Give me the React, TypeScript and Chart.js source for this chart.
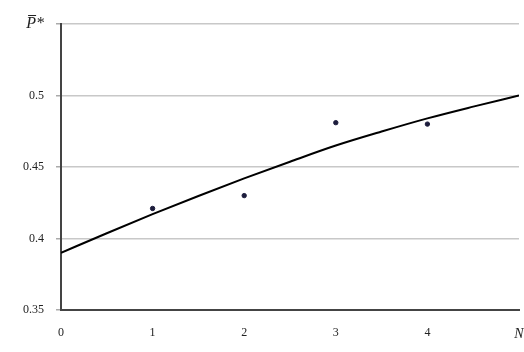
import React, { useEffect, useRef } from "react";
import { Chart, registerables } from "chart.js";

Chart.register(...registerables);

const pointX = [1, 2, 3, 4];
const pointY = [0.421, 0.43, 0.481, 0.48];
const curveX = [0, 0.5, 1, 1.5, 2, 2.5, 3, 3.5, 4, 4.5, 5];
const curveY = [0.39, 0.4037, 0.417, 0.4297, 0.442, 0.4537, 0.465, 0.4748, 0.484, 0.4922, 0.5];
const yTicks = [0.35, 0.4, 0.45, 0.5, 0.55];
const yTickLabels = ["0.35", "0.4", "0.45", "0.5", "P\u0305*"];
const xTicks = [0, 1, 2, 3, 4, 5];
const xTickLabels = ["0", "1", "2", "3", "4", "N"];

export default function App() {
  const ref = useRef<HTMLCanvasElement | null>(null);
  useEffect(() => {
    if (!ref.current) return;
    const chart = new Chart(ref.current, {
      type: "scatter",
      data: {
        datasets: [
          {
            label: "curve",
            data: curveX.map((x, i) => ({ x, y: curveY[i] })),
            showLine: true,
            borderColor: "#000000",
            borderWidth: 2,
            pointRadius: 0,
            cubicInterpolationMode: "monotone",
          } as any,
          {
            label: "points",
            data: pointX.map((x, i) => ({ x, y: pointY[i] })),
            backgroundColor: "#1c1c3c",
            borderColor: "#1c1c3c",
            pointRadius: 2.2,
          },
        ],
      },
      options: {
        animation: false,
        responsive: false,
        maintainAspectRatio: false,
        layout: { padding: { top: 24, right: 2, left: 0, bottom: 0 } },
        plugins: { legend: { display: false }, tooltip: { enabled: false } },
        scales: {
          x: {
            type: "linear",
            min: 0,
            max: 5,
            afterBuildTicks: (s: any) => {
              s.ticks = xTicks.map((v) => ({ value: v }));
            },
            afterFit: (s: any) => {
              s.height = 42;
              s.paddingRight = 0;
              s.paddingLeft = 0;
            },
            grid: { display: false },
            border: { display: true, color: "#444444", width: 2 },
            ticks: {
              padding: 8,
              color: "#222222",
              font: (c: any) => ({
                family: "Liberation Serif",
                size: c.tick && c.tick.value === 5 ? 14 : 12,
                style: c.tick && c.tick.value === 5 ? "italic" : "normal",
              }),
              callback: (v: any) => {
                const i = xTicks.indexOf(Number(v));
                return i >= 0 ? xTickLabels[i] : "";
              },
            },
          },
          y: {
            type: "linear",
            min: 0.35,
            max: 0.55,
            afterBuildTicks: (s: any) => {
              s.ticks = yTicks.map((v) => ({ value: v }));
            },
            afterFit: (s: any) => {
              s.width = 61;
              s.paddingTop = 0;
              s.paddingBottom = 0;
            },
            grid: {
              color: "#c8c8c8",
              lineWidth: 1.5,
              tickLength: 5,
              tickColor: "#aaaaaa",
            },
            border: { display: true, color: "#444444", width: 2 },
            ticks: {
              padding: 12,
              color: "#222222",
              font: (c: any) => {
                const top = c.tick && Math.abs(c.tick.value - 0.55) < 1e-6;
                return {
                  family: "Liberation Serif",
                  size: top ? 16 : 12,
                  style: top ? "italic" : "normal",
                };
              },
              callback: (v: any) => {
                const i = yTicks.findIndex((t) => Math.abs(t - Number(v)) < 1e-6);
                return i >= 0 ? yTickLabels[i] : "";
              },
            },
          },
        },
      },
    });
    return () => chart.destroy();
  }, []);
  return (
    <div style={{ position: "fixed", left: 0, top: 0, width: 524, height: 352, background: "#fff" }}>
      <canvas ref={ref} width={524} height={352} style={{ width: 524, height: 352 }} />
    </div>
  );
}
